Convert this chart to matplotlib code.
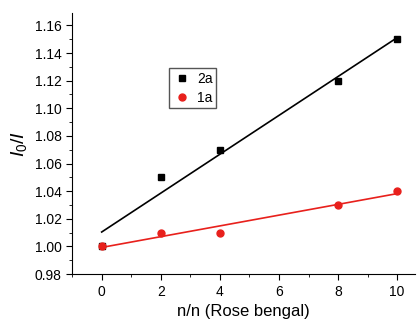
import numpy as np
import matplotlib
matplotlib.use("Agg")
import matplotlib.pyplot as plt
from matplotlib.ticker import MultipleLocator

plt.rcParams['font.family'] = ['Liberation Sans', 'DejaVu Sans']
plt.rcParams['mathtext.fontset'] = 'custom'
plt.rcParams['mathtext.it'] = 'Liberation Sans:italic'
plt.rcParams['mathtext.rm'] = 'Liberation Sans'

x = [0, 2, 4, 8, 10]
y_2a = [1.00, 1.05, 1.07, 1.12, 1.15]
y_1a = [1.00, 1.01, 1.01, 1.03, 1.04]

fig = plt.figure(figsize=(4.17, 3.24), dpi=100)
ax = fig.add_axes([0.173, 0.154, 0.822, 0.806])

xf = np.array([0, 10])
k2, b2 = np.polyfit(x, y_2a, 1)
k1, b1 = np.polyfit(x, y_1a, 1)
ax.plot(xf, k2 * xf + b2, color='black', lw=1.2)
ax.plot(xf, k1 * xf + b1, color='#e8201c', lw=1.2)
ax.plot(x, y_2a, 's', color='black', ms=5, label='2a')
ax.plot(x, y_1a, 'o', color='#e8201c', ms=5, label='1a')

ax.set_xlim(-1, 10.6)
ax.set_ylim(0.98, 1.169)
ax.xaxis.set_major_locator(MultipleLocator(2))
ax.xaxis.set_minor_locator(MultipleLocator(1))
ax.yaxis.set_major_locator(MultipleLocator(0.02))
ax.yaxis.set_minor_locator(MultipleLocator(0.01))
ax.yaxis.set_major_formatter(matplotlib.ticker.FormatStrFormatter('%.2f'))
ax.spines['top'].set_visible(False)
ax.spines['right'].set_visible(False)
ax.tick_params(which='major', direction='out', length=4, labelsize=10)
ax.tick_params(which='minor', direction='out', length=2.5)

ax.set_xlabel('n/n (Rose bengal)', fontsize=12)
ax.set_ylabel(r'$I_0/I$', fontsize=14)

ax.legend(loc='upper left', bbox_to_anchor=(0.262, 0.815), fontsize=10,
          fancybox=False, edgecolor='#555555', framealpha=1,
          handletextpad=0.4, borderpad=0.25, handlelength=1.4, labelspacing=0.35)

fig.savefig('out.png', dpi=100)
